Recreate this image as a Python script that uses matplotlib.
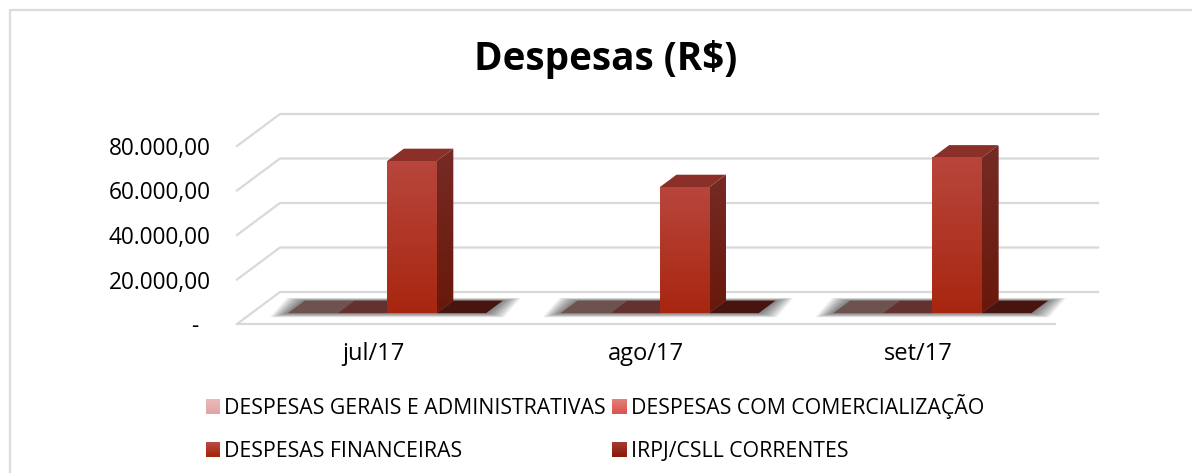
import numpy as np
import matplotlib
matplotlib.use('Agg')
import matplotlib.pyplot as plt
from matplotlib.colors import LinearSegmentedColormap
from matplotlib.legend_handler import HandlerBase
from matplotlib.lines import Line2D
from matplotlib.patches import Patch, Polygon, Rectangle

months = ['jul/17', 'ago/17', 'set/17']
series_names = ['DESPESAS GERAIS E ADMINISTRATIVAS', 'DESPESAS COM COMERCIALIZAÇÃO',
                'DESPESAS FINANCEIRAS', 'IRPJ/CSLL CORRENTES']
gerais = [0, 0, 0]
comercial = [0, 0, 0]
financeiras = [68300, 56600, 69900]
irpj = [0, 0, 0]
y_ticks = [0, 20000, 40000, 60000, 80000]
y_tick_labels = ['-  ', '20.000,00', '40.000,00', '60.000,00', '80.000,00']

front_colors = [('#eab9b7', '#e3a5a3'), ('#e57f78', '#d9574f'),
                ('#b94a3f', '#a8240f'), ('#a33a2e', '#8c1a0c')]
floor_colors = ['#6e5250', '#633230', '#633230', '#471410']

plt.rcParams['font.family'] = ['Open Sans', 'DejaVu Sans']

W, H = 1192, 473
fig = plt.figure(figsize=(W / 100, H / 100), dpi=100)
# only the top and left of the outer frame are in the crop
fig.add_artist(Line2D([10 / W, 10 / W, 1], [0, 1 - 10 / H, 1 - 10 / H], color='#dcdcdc', lw=1.6))

# front edge of the floor
ax = fig.add_axes([237 / W, 1 - 324 / H, 818 / W, 178 / H])
ax.set_xlim(0, 3)
ax.set_ylim(0, 80000)
ax.patch.set_visible(False)
for s in ax.spines.values():
    s.set_visible(False)

# oblique depth, one unit of depth in data units
depth_x = 43 / 818 * 3
depth_y = 32 / 178 * 80000
bar_w = 49.5 / 818 * 3
d0, d1 = 0.34, 0.73
px_x = 3 / 818
px_y = 80000 / 178


def skew(x, y, d):
    return x + d * depth_x, y + d * depth_y


grid = '#d9d9d9'
for t in y_ticks:
    xb, yb = skew(0, t, 1)
    xe, ye = skew(3, t, 1)
    ax.plot([0, xb, xe], [t, yb, ye], color=grid, lw=1.6, clip_on=False, zorder=1)
ax.plot([0, 3], [0, 0], color=grid, lw=1.6, clip_on=False, zorder=1)

ax.set_xticks([0.5, 1.5, 2.5], months)
ax.set_yticks(y_ticks, y_tick_labels)
ax.tick_params(axis='x', length=0, labelsize=17, pad=13)
ax.tick_params(axis='y', length=0, labelsize=16.3, pad=19)

grad = np.linspace(0, 1, 256).reshape(-1, 1)
all_vals = [gerais, comercial, financeiras, irpj]

for c in range(len(months)):
    left = c + 0.5 - 2 * bar_w - 0.0033
    x0 = left
    x1 = left + 4 * bar_w
    # soft shadow under the flat group
    for k in range(14, 0, -1):
        gx = k * 1.3 * px_x
        gb = k * 0.3 * px_y
        gt = k * 0.2 * px_y
        pts = [(skew(x0, 0, d0)[0] - gx, skew(x0, 0, d0)[1] - gb),
               (skew(x1, 0, d0)[0] + gx, skew(x1, 0, d0)[1] - gb),
               (skew(x1, 0, d1)[0] + gx, skew(x1, 0, d1)[1] + gt),
               (skew(x0, 0, d1)[0] - gx, skew(x0, 0, d1)[1] + gt)]
        ax.add_patch(Polygon(pts, fc='black', ec='none', alpha=0.045, clip_on=False, zorder=2))
    # flat tops of the four series
    for s in range(len(series_names)):
        xa = left + s * bar_w
        xb = xa + bar_w
        v = all_vals[s][c]
        if v > 0:
            continue
        pts = [skew(xa, 0, d0), skew(xb, 0, d0), skew(xb, 0, d1), skew(xa, 0, d1)]
        ax.add_patch(Polygon(pts, fc=floor_colors[s], ec='none', clip_on=False, zorder=3))
    # tall bars
    for s in range(len(series_names)):
        v = all_vals[s][c]
        if v <= 0:
            continue
        xa = left + s * bar_w
        xb = xa + bar_w
        fa, y0 = skew(xa, 0, d0)
        fb, y1 = skew(xb, v, d0)
        top = [skew(xa, v, d0), skew(xb, v, d0), skew(xb, v, d1), skew(xa, v, d1)]
        ax.add_patch(Polygon(top, fc='#8b3029', ec='none', clip_on=False, zorder=4))
        # side face
        side_pts = [skew(xb, 0, d0), skew(xb, 0, d1), skew(xb, v, d1), skew(xb, v, d0)]
        side_cmap = LinearSegmentedColormap.from_list('side', ['#752b25', '#69180b'])
        im = ax.imshow(grad, cmap=side_cmap, aspect='auto', origin='upper', zorder=4,
                       extent=(side_pts[0][0], side_pts[1][0], y0, skew(0, v, d1)[1]))
        im.set_clip_path(Polygon(side_pts, transform=ax.transData))
        # front face
        front_cmap = LinearSegmentedColormap.from_list('front', ['#b8463c', '#a82610'])
        ax.imshow(grad, cmap=front_cmap, aspect='auto', origin='upper', zorder=5,
                  extent=(fa, fb, y0, y1), clip_on=False)

ax.set_xlim(0, 3)
ax.set_ylim(0, 80000)

fig.text(606 / W, 1 - 70 / H, 'Despesas (R$)', fontsize=27.8, fontweight='bold', color='black',
         ha='center', va='baseline')


class GradientHandler(HandlerBase):
    def create_artists(self, legend, orig, xd, yd, w, h, fs, trans):
        top, bot = orig.grad
        cm = LinearSegmentedColormap.from_list('h', [top, bot])
        n = 14
        rects = []
        for i in range(n):
            rects.append(Rectangle((-xd, -yd + h * (n - 1 - i) / n), w, h / n + 0.3,
                                   fc=cm(i / (n - 1)), ec='none', transform=trans))
        return rects


handles = []
for cols, name in zip(front_colors, series_names):
    p = Patch(label=name)
    p.grad = cols
    handles.append(p)

# legend fills by column, the reference reads by row
order = [0, 2, 1, 3]
leg = fig.legend(handles=[handles[i] for i in order], ncols=2, loc='upper left',
                 bbox_to_anchor=(206 / W, 1 - 394 / H),
                 frameon=False, fontsize=15.3, handlelength=0.68, handleheight=0.68,
                 handletextpad=0.18, columnspacing=0.3, labelspacing=1.02, borderpad=0, borderaxespad=0,
                 handler_map={Patch: GradientHandler()})

fig.savefig('out.png', dpi=100)
